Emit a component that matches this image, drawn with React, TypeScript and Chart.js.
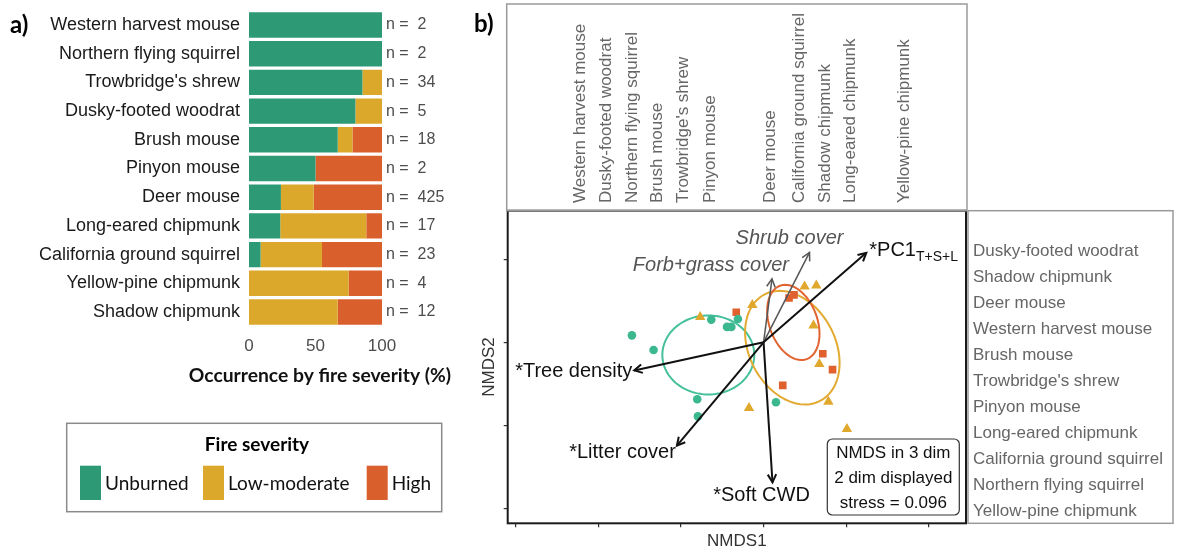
import React, { useEffect, useRef } from "react";
import { Chart, registerables } from "chart.js";
Chart.register(...registerables);

// ---------- Panel a data ----------
const species = [
  "Western harvest mouse",
  "Northern flying squirrel",
  "Trowbridge's shrew",
  "Dusky-footed woodrat",
  "Brush mouse",
  "Pinyon mouse",
  "Deer mouse",
  "Long-eared chipmunk",
  "California ground squirrel",
  "Yellow-pine chipmunk",
  "Shadow chipmunk",
];
const unburned = [100, 100, 85.3, 80, 66.7, 50, 24, 23.5, 8.7, 0, 0];
const lowModerate = [0, 0, 14.7, 20, 11.1, 0, 24.6, 64.7, 46.2, 75, 66.7];
const high = [0, 0, 0, 0, 22.2, 50, 51.4, 11.8, 45.1, 25, 33.3];
const sampleSizes = [2, 2, 34, 5, 18, 2, 425, 17, 23, 4, 12];
const severityLabels = ["Unburned", "Low-moderate", "High"];
const barColors = ["#2E9A75", "#DBA82B", "#D95F2D"];
const barTicks = [0, 50, 100];
const barAxisTitle = "Occurrence by fire severity (%)";

// ---------- Panel b data ----------
const unburnedPts = [
  [-0.796, 0.042], [-0.665, -0.046], [-0.316, 0.137], [-0.221, 0.093], [-0.195, 0.093],
  [-0.155, 0.141], [-0.401, -0.343], [-0.397, -0.446], [0.075, -0.361],
];
const lowModPts = [
  [-0.383, 0.152], [-0.068, 0.225], [0.248, 0.336], [0.319, 0.343], [0.302, 0.102],
  [0.337, -0.13], [0.392, -0.358], [-0.088, -0.395], [0.504, -0.522],
];
const highPts = [
  [-0.165, 0.181], [0.154, 0.267], [0.184, 0.286], [0.358, -0.069], [0.417, -0.164], [0.116, -0.259],
];
const pointColors = ["#3BB890", "#E0A82C", "#E0612D"];
const ellipseColors = ["#45C09B", "#E2AA30", "#E2632F"];
const ellipseCX = [-0.334, 0.174, 0.18];
const ellipseCY = [-0.076, -0.032, 0.12];
const ellipseA = [0.278, 0.362, 0.235];
const ellipseB = [0.238, 0.26, 0.145];
const ellipseAngleDeg = [0, -62, -70];

const envNames = ["Tree density", "Litter cover", "Soft CWD", "PC1", "Shrub cover", "Forb+grass cover"];
const envX = [-0.782, -0.524, 0.054, 0.621, 0.278, 0.051];
const envY = [-0.169, -0.622, -0.843, 0.539, 0.542, 0.382];
const envSignificant = [true, true, true, true, false, false];

const nmdsXTicks = [-1.5, -1, -0.5, 0, 0.5, 1];
const nmdsYTicks = [-1, -0.5, 0, 0.5];

const topSpecies = [
  "Western harvest mouse", "Dusky-footed woodrat", "Northern flying squirrel", "Brush mouse",
  "Trowbridge's shrew", "Pinyon mouse", "Deer mouse", "California ground squirrel",
  "Shadow chipmunk", "Long-eared chipmunk", "Yellow-pine chipmunk",
];
const topSpeciesNMDS1 = [-1.108, -0.951, -0.796, -0.645, -0.486, -0.322, 0.04, 0.219, 0.373, 0.524, 0.848];
const rightSpecies = [
  "Dusky-footed woodrat", "Shadow chipmunk", "Deer mouse", "Western harvest mouse", "Brush mouse",
  "Trowbridge's shrew", "Pinyon mouse", "Long-eared chipmunk", "California ground squirrel",
  "Northern flying squirrel", "Yellow-pine chipmunk",
];
const stressLines = ["NMDS in 3 dim", "2 dim displayed", "stress = 0.096"];

const SANS = "'Liberation Sans', Arial, sans-serif";
const CAL = "Lato, 'Open Sans', sans-serif";

const barExtras = {
  id: "barExtras",
  afterDraw(chart: any) {
    const ctx = chart.ctx;
    const ys = chart.scales.y;
    const area = chart.chartArea;
    ctx.save();
    ctx.fillStyle = "#4d4d4d";
    ctx.font = `16px ${SANS}`;
    ctx.textBaseline = "middle";
    ctx.textAlign = "left";
    sampleSizes.forEach((n, i) => {
      ctx.fillText(`n =  ${n}`, area.right + 4, ys.getPixelForValue(i));
    });
    // axis title
    ctx.fillStyle = "#111";
    ctx.font = `bold 18px ${CAL}`;
    const w = ctx.measureText(barAxisTitle).width;
    const size = Math.min(21, (18 * 262) / w);
    ctx.font = `bold ${size.toFixed(1)}px ${CAL}`;
    ctx.textAlign = "center";
    ctx.fillText(barAxisTitle, 320, 376);
    // panel label
    ctx.fillStyle = "#000";
    ctx.textAlign = "left";
    ctx.font = `bold 24px ${CAL}`;
    ctx.fillText("a)", 10, 25);
    // legend
    ctx.strokeStyle = "#8a8a8a";
    ctx.lineWidth = 1.5;
    ctx.strokeRect(66.7, 423.3, 375, 88.4);
    ctx.font = `bold 19px ${CAL}`;
    ctx.textAlign = "center";
    ctx.fillStyle = "#000";
    ctx.fillText("Fire severity", 257, 445);
    const sw = [80, 203, 366.7];
    ctx.font = `19px ${CAL}`;
    ctx.textAlign = "left";
    chart.data.datasets.forEach((ds: any, i: number) => {
      ctx.fillStyle = ds.backgroundColor;
      ctx.fillRect(sw[i], 465.7, 21, 34.3);
      ctx.fillStyle = "#111";
      ctx.fillText(ds.label, sw[i] + 25, 483.5);
    });
    ctx.restore();
  },
};

function drawArrowHead(ctx: any, x0: number, y0: number, x1: number, y1: number, len: number) {
  const ang = Math.atan2(y1 - y0, x1 - x0);
  const spread = (28 * Math.PI) / 180;
  ctx.beginPath();
  ctx.moveTo(x1 - len * Math.cos(ang - spread), y1 - len * Math.sin(ang - spread));
  ctx.lineTo(x1, y1);
  ctx.lineTo(x1 - len * Math.cos(ang + spread), y1 - len * Math.sin(ang + spread));
  ctx.stroke();
}

const labelLayout = [
  { align: "right", dx: -2, dy: 1 },
  { align: "right", dx: -1, dy: 7 },
  { align: "center", dx: -11, dy: 13 },
  { align: "left", dx: 3, dy: -2 },
  { align: "center", dx: -20, dy: -14 },
  { align: "right", dx: 17, dy: -13 },
];

const nmdsExtras = {
  id: "nmdsExtras",
  beforeDatasetsDraw(chart: any) {
    const ctx = chart.ctx;
    const xs = chart.scales.x;
    const ys = chart.scales.y;
    ctx.save();
    ctx.lineWidth = 2;
    for (let e = 0; e < ellipseCX.length; e++) {
      const phi = (ellipseAngleDeg[e] * Math.PI) / 180;
      ctx.strokeStyle = ellipseColors[e];
      ctx.beginPath();
      for (let k = 0; k <= 120; k++) {
        const t = (k / 120) * Math.PI * 2;
        const dx = ellipseA[e] * Math.cos(t);
        const dy = ellipseB[e] * Math.sin(t);
        const X = ellipseCX[e] + dx * Math.cos(phi) - dy * Math.sin(phi);
        const Y = ellipseCY[e] + dx * Math.sin(phi) + dy * Math.cos(phi);
        const px = xs.getPixelForValue(X);
        const py = ys.getPixelForValue(Y);
        if (k === 0) ctx.moveTo(px, py);
        else ctx.lineTo(px, py);
      }
      ctx.closePath();
      ctx.stroke();
    }
    ctx.restore();
  },
  afterDatasetsDraw(chart: any) {
    const ctx = chart.ctx;
    const xs = chart.scales.x;
    const ys = chart.scales.y;
    const area = chart.chartArea;
    const ox = xs.getPixelForValue(0);
    const oy = ys.getPixelForValue(0);
    ctx.save();
    // arrow heads & labels
    envNames.forEach((name, i) => {
      const tx = xs.getPixelForValue(envX[i]);
      const ty = ys.getPixelForValue(envY[i]);
      ctx.strokeStyle = envSignificant[i] ? "#111" : "#555";
      ctx.lineWidth = envSignificant[i] ? 2 : 1.5;
      drawArrowHead(ctx, ox, oy, tx, ty, 9);
      const L = labelLayout[i];
      ctx.textBaseline = "middle";
      ctx.textAlign = L.align;
      const lx = tx + L.dx;
      const ly = ty + L.dy;
      if (envSignificant[i]) {
        ctx.fillStyle = "#111";
        ctx.font = `20px ${SANS}`;
        if (name === "PC1") {
          ctx.textAlign = "left";
          const main = "*PC1";
          ctx.fillText(main, lx, ly);
          const w = ctx.measureText(main).width;
          ctx.font = `14px ${SANS}`;
          ctx.fillText("T+S+L", lx + w, ly + 6.5);
        } else {
          ctx.fillText("*" + name, lx, ly);
        }
      } else {
        ctx.fillStyle = "#555";
        ctx.font = `italic 20px ${SANS}`;
        ctx.fillText(name, lx, ly);
      }
    });
    // plot border
    ctx.strokeStyle = "#1a1a1a";
    ctx.lineWidth = 2;
    ctx.strokeRect(area.left, area.top, area.right - area.left, area.bottom - area.top);
    // stress box
    ctx.fillStyle = "#fff";
    ctx.strokeStyle = "#333";
    ctx.lineWidth = 1.2;
    ctx.beginPath();
    ctx.roundRect(827.3, 439, 132, 76, 5);
    ctx.fill();
    ctx.stroke();
    ctx.fillStyle = "#111";
    ctx.font = `17px ${SANS}`;
    ctx.textAlign = "center";
    ctx.textBaseline = "middle";
    stressLines.forEach((s, i) => ctx.fillText(s, 893.3, 453.5 + i * 25));
    // top species box
    ctx.strokeStyle = "#9a9a9a";
    ctx.lineWidth = 1.5;
    ctx.strokeRect(506.7, 4, 967 - 506.7, area.top - 4);
    ctx.fillStyle = "#666";
    ctx.font = `17px ${SANS}`;
    ctx.textAlign = "left";
    ctx.textBaseline = "middle";
    topSpecies.forEach((s, i) => {
      const x = xs.getPixelForValue(topSpeciesNMDS1[i]);
      ctx.save();
      ctx.translate(x, 203);
      ctx.rotate(-Math.PI / 2);
      ctx.fillText(s, 0, 0);
      ctx.restore();
    });
    // right species box
    ctx.strokeRect(968, area.top, 1173 - 968, area.bottom - area.top);
    ctx.textAlign = "left";
    rightSpecies.forEach((s, i) => ctx.fillText(s, 973, 251.7 + i * 26));
    // panel label
    ctx.fillStyle = "#000";
    ctx.font = `bold 24px ${CAL}`;
    ctx.fillText("b)", 474, 24);
    ctx.restore();
  },
};

const toPts = (arr: number[][]) => arr.map(([x, y]) => ({ x, y }));

export default function App() {
  const c1 = useRef<HTMLCanvasElement>(null);
  const c2 = useRef<HTMLCanvasElement>(null);

  useEffect(() => {
    const barChart = new Chart(c1.current as HTMLCanvasElement, {
      type: "bar",
      data: {
        labels: species,
        datasets: [unburned, lowModerate, high].map((d, i) => ({
          label: severityLabels[i],
          data: d,
          backgroundColor: barColors[i],
          borderWidth: 0,
          barPercentage: 0.885,
          categoryPercentage: 1,
        })),
      },
      options: {
        indexAxis: "y",
        responsive: false,
        animation: false,
        layout: { padding: { left: 0, right: 796, top: 10.65, bottom: 165.65 } },
        plugins: { legend: { display: false }, tooltip: { enabled: false } },
        scales: {
          x: {
            stacked: true,
            min: 0,
            max: 100,
            afterBuildTicks: (s: any) => {
              s.ticks = barTicks.map((v) => ({ value: v }));
            },
            grid: { display: false, drawTicks: false },
            border: { display: false },
            ticks: { color: "#4d4d4d", font: { size: 17, family: SANS }, padding: 10 },
            afterFit: (s: any) => {
              s.height = 60;
              s.paddingLeft = 0;
              s.paddingRight = 0;
            },
          },
          y: {
            stacked: true,
            grid: { display: false, drawTicks: false },
            border: { display: false },
            ticks: { color: "#1a1a1a", font: { size: 18, family: SANS }, padding: 9, autoSkip: false },
            afterFit: (s: any) => {
              s.width = 249;
              s.paddingTop = 0;
              s.paddingBottom = 0;
            },
          },
        },
      } as any,
      plugins: [barExtras],
    });

    const arrowSets = envNames.map((n, i) => ({
      label: n,
      data: [
        { x: 0, y: 0 },
        { x: envX[i], y: envY[i] },
      ],
      showLine: true,
      pointRadius: 0,
      borderColor: envSignificant[i] ? "#111" : "#555",
      borderWidth: envSignificant[i] ? 2 : 1.5,
    }));

    const nmdsChart = new Chart(c2.current as HTMLCanvasElement, {
      type: "scatter",
      data: {
        datasets: [
          ...arrowSets,
          {
            label: severityLabels[0],
            data: toPts(unburnedPts),
            pointStyle: "circle",
            pointRadius: 4.3,
            backgroundColor: pointColors[0],
            borderWidth: 0,
          },
          {
            label: severityLabels[1],
            data: toPts(lowModPts),
            pointStyle: "triangle",
            pointRadius: 6,
            backgroundColor: pointColors[1],
            borderWidth: 0,
          },
          {
            label: severityLabels[2],
            data: toPts(highPts),
            pointStyle: "rect",
            pointRadius: 5.4,
            backgroundColor: pointColors[2],
            borderWidth: 0,
          },
        ],
      },
      options: {
        responsive: false,
        animation: false,
        layout: { padding: { left: 466, right: 212, top: 210.7, bottom: 0 } },
        plugins: { legend: { display: false }, tooltip: { enabled: false } },
        scales: {
          x: {
            type: "linear",
            min: -1.547,
            max: 1.224,
            afterBuildTicks: (s: any) => {
              s.ticks = nmdsXTicks.map((v) => ({ value: v }));
            },
            ticks: { display: false },
            grid: { drawOnChartArea: false, drawTicks: true, tickLength: 4, color: "#333", lineWidth: 1.2 },
            border: { display: false },
            title: {
              display: true,
              text: "NMDS1",
              color: "#333",
              font: { size: 17, family: SANS },
              padding: { top: 0, bottom: 0 },
            },
            afterFit: (s: any) => {
              s.height = 28.7;
            },
          },
          y: {
            type: "linear",
            min: -1.09,
            max: 0.793,
            afterBuildTicks: (s: any) => {
              s.ticks = nmdsYTicks.map((v) => ({ value: v }));
            },
            ticks: { display: false },
            grid: { drawOnChartArea: false, drawTicks: true, tickLength: 4, color: "#333", lineWidth: 1.2 },
            border: { display: false },
            title: {
              display: true,
              text: "NMDS2",
              color: "#333",
              font: { size: 17, family: SANS },
              padding: { top: 12.8, bottom: 0 },
            },
            afterFit: (s: any) => {
              s.width = 41.7;
            },
          },
        },
      } as any,
      plugins: [nmdsExtras],
    });

    return () => {
      barChart.destroy();
      nmdsChart.destroy();
    };
  }, []);

  return (
    <div style={{ position: "fixed", left: 0, top: 0, width: 1178, height: 552, background: "#fff" }}>
      <canvas ref={c1} width={1178} height={552} style={{ position: "absolute", left: 0, top: 0 }} />
      <canvas ref={c2} width={1178} height={552} style={{ position: "absolute", left: 0, top: 0 }} />
    </div>
  );
}
